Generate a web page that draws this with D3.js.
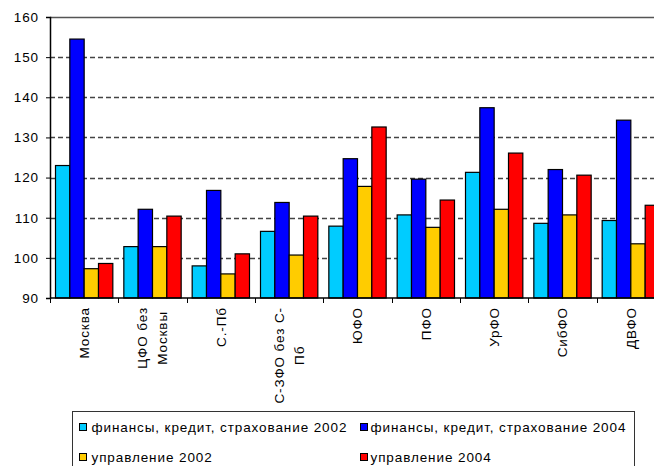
<!DOCTYPE html>
<html>
<head>
<meta charset="utf-8">
<script src="https://cdn.jsdelivr.net/npm/d3@7/dist/d3.min.js"></script>
<style>
  html, body { margin: 0; padding: 0; background: #fff; }
  svg { display: block; font-family: "Liberation Sans", Arial, sans-serif; }
</style>
</head>
<body>
<svg id="chart" width="654" height="466"></svg>
<script>
// Regions (line breaks as they appear under the axis)
const categories = ["Москва", "ЦФО без Москвы", "С.-Пб", "С-ЗФО без С-Пб", "ЮФО", "ПФО", "УрФО", "СибФО", "ДВФО"];
const categoryLines = [["Москва"], ["ЦФО без", "Москвы"], ["С.-Пб"], ["С-ЗФО без С-", "Пб"], ["ЮФО"], ["ПФО"], ["УрФО"], ["СибФО"], ["ДВФО"]];

// Index values by series
const fin2002 = [123.0, 102.8, 98.0, 106.6, 107.9, 110.7, 121.3, 108.6, 109.3];
const fin2004 = [154.5, 112.1, 116.8, 113.8, 124.7, 119.6, 137.4, 122.0, 134.3];
const upr2002 = [97.3, 102.8, 96.0, 100.7, 117.8, 107.6, 112.1, 110.7, 103.5];
const upr2004 = [98.6, 110.4, 101.0, 110.4, 132.6, 114.4, 126.1, 120.6, 113.1];

const seriesNames = ["финансы, кредит, страхование 2002", "финансы, кредит, страхование 2004", "управление 2002", "управление 2004"];
const seriesColors = ["#00CCFF", "#0000FF", "#FFCC00", "#FF0000"];
const yTicks = [90, 100, 110, 120, 130, 140, 150, 160];

const series = [fin2002, fin2004, upr2002, upr2004].map((vals, i) => ({ name: seriesNames[i], color: seriesColors[i], values: vals }));

const svg = d3.select("#chart");
const plot = { left: 50, right: 665, top: 17, bottom: 298 };

const x = d3.scaleBand().domain(categories).range([plot.left, plot.right]).padding(0);
const xs = d3.scaleBand().domain(d3.range(series.length)).range([5.5, x.bandwidth() - 5.5]).padding(0);
const y = d3.scaleLinear().domain([90, 160]).range([plot.bottom, plot.top]);

const textStyle = sel => sel.attr("font-size", 13.5).attr("letter-spacing", "0.9px").attr("fill", "#000");

// plot frame top edge
svg.append("line")
  .attr("x1", plot.left).attr("x2", plot.right)
  .attr("y1", plot.top + 0.5).attr("y2", plot.top + 0.5)
  .attr("stroke", "#555").attr("stroke-width", 1.5);

// dashed gridlines
svg.append("g").selectAll("line")
  .data(yTicks.filter(t => t > 90 && t < 160))
  .join("line")
  .attr("x1", plot.left).attr("x2", plot.right)
  .attr("y1", d => Math.round(y(d)) + 0.5).attr("y2", d => Math.round(y(d)) + 0.5)
  .attr("stroke", "#444").attr("stroke-width", 1.5).attr("stroke-dasharray", "5,3");

// bars
const groups = svg.append("g").selectAll("g")
  .data(categories)
  .join("g")
  .attr("transform", d => `translate(${x(d)},0)`);

groups.selectAll("rect")
  .data((d, ci) => series.map((s, si) => ({ si, v: s.values[ci], color: s.color })))
  .join("rect")
  .attr("x", d => xs(d.si))
  .attr("width", xs.bandwidth())
  .attr("y", d => y(d.v))
  .attr("height", d => y(90) - y(d.v))
  .attr("fill", d => d.color)
  .attr("stroke", "#000").attr("stroke-width", 1.2);

// y axis
const yAxis = d3.axisLeft(y).tickValues(yTicks).tickSize(4).tickPadding(7).tickFormat(d3.format("d"));
const gy = svg.append("g").attr("transform", `translate(${plot.left},0)`).call(yAxis);
gy.select(".domain").attr("stroke", "#000").attr("stroke-width", 1.5);
gy.selectAll(".tick line").attr("stroke", "#000");
gy.selectAll(".tick text").call(textStyle).attr("font-family", null);

// x axis: tick marks at band boundaries
svg.append("line")
  .attr("x1", plot.left).attr("x2", plot.right)
  .attr("y1", plot.bottom).attr("y2", plot.bottom)
  .attr("stroke", "#000").attr("stroke-width", 1.5);
svg.append("g").selectAll("line")
  .data(categories)
  .join("line")
  .attr("x1", d => Math.round(x(d)) + 0.5).attr("x2", d => Math.round(x(d)) + 0.5)
  .attr("y1", plot.bottom).attr("y2", plot.bottom + 5)
  .attr("stroke", "#000");

// rotated category labels, centred lines, block hanging from the axis
const labelTop = 307;
const lineGap = 19.5;
categories.forEach((c, ci) => {
  const lines = categoryLines[ci];
  const cx = x(c) + x.bandwidth() / 2;
  const g = svg.append("g");
  const texts = lines.map((ln, li) => g.append("text")
    .text(ln)
    .call(textStyle)
    .attr("text-anchor", "middle")
    .attr("x", 0)
    .attr("y", (li - (lines.length - 1) / 2) * lineGap)
    .attr("dy", "0.35em"));
  const maxW = d3.max(texts, t => t.node().getComputedTextLength());
  g.attr("transform", `translate(${cx},${labelTop + maxW / 2}) rotate(-90)`);
});

// legend
const legend = svg.append("g");
legend.append("rect")
  .attr("x", 72.5).attr("y", 411.5).attr("width", 562).attr("height", 70)
  .attr("fill", "#fff").attr("stroke", "#333").attr("stroke-width", 1);

const legendPos = [
  { sx: 79, tx: 91.5, cy: 427 },
  { sx: 360, tx: 370.5, cy: 427 },
  { sx: 79, tx: 91.5, cy: 457 },
  { sx: 360, tx: 370.5, cy: 457 }
];
series.forEach((s, i) => {
  const p = legendPos[i];
  legend.append("rect")
    .attr("x", p.sx + 0.5).attr("y", p.cy - 3.5).attr("width", 7).attr("height", 7)
    .attr("fill", s.color).attr("stroke", "#000").attr("stroke-width", 1);
  legend.append("text")
    .text(s.name)
    .call(textStyle)
    .attr("x", p.tx).attr("y", p.cy).attr("dy", "0.35em");
});
</script>
</body>
</html>
